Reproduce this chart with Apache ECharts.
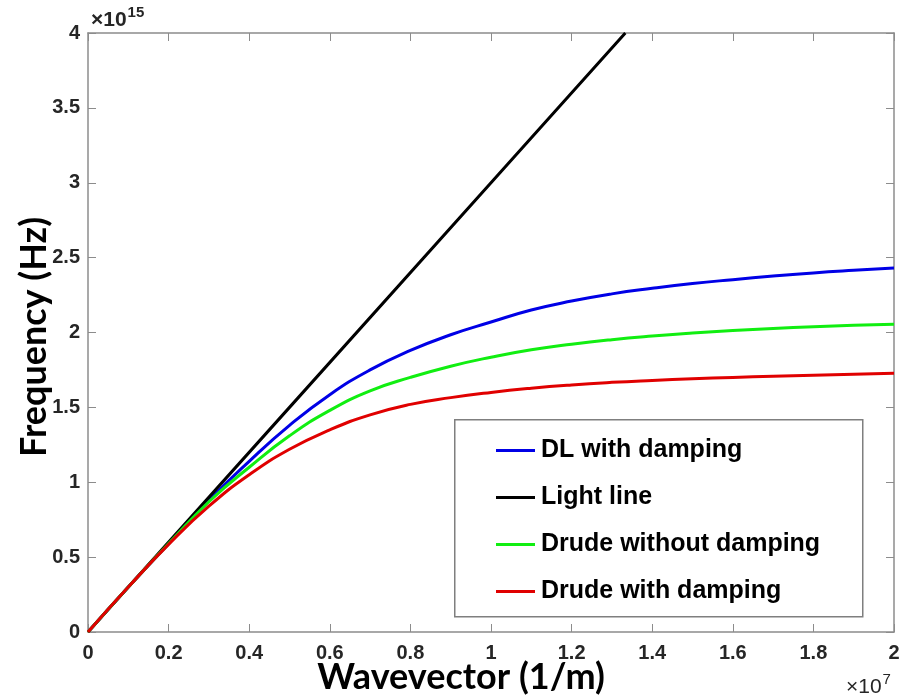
<!DOCTYPE html>
<html>
<head>
    <meta charset="utf-8">
    <title>Dispersion</title>
    <script src="https://cdn.jsdelivr.net/npm/echarts@6/dist/echarts.min.js"></script>
    <style type="text/css">
        html, body {margin:0; padding:0; background:#fff; overflow:hidden;}
    </style>
</head>
<body>
<div id="container" style="width:903px;height:700px;"></div>

<script type="text/javascript">
    // wavevector (x 1e7 1/m)
    var kx = [0, 0.1, 0.2, 0.3, 0.4, 0.5, 0.6, 0.7, 0.8, 0.9, 1.0, 1.1, 1.2, 1.3, 1.4, 1.5, 1.6, 1.7, 1.8, 1.9, 2.0];
    // frequency (x 1e15 Hz)
    var dlDamp     = [0, 0.30, 0.59, 0.88, 1.14, 1.38, 1.585, 1.75, 1.88, 1.985, 2.07, 2.15, 2.21, 2.258, 2.295, 2.327, 2.353, 2.377, 2.398, 2.415, 2.43];
    var drudeNoDmp = [0, 0.30, 0.59, 0.87, 1.10, 1.31, 1.48, 1.61, 1.70, 1.775, 1.835, 1.885, 1.922, 1.952, 1.976, 1.996, 2.013, 2.027, 2.039, 2.048, 2.055];
    var drudeDamp  = [0, 0.30, 0.585, 0.84, 1.05, 1.22, 1.35, 1.45, 1.52, 1.565, 1.60, 1.628, 1.65, 1.667, 1.68, 1.691, 1.70, 1.708, 1.715, 1.722, 1.728];
    var lightK = [0, 0.5, 1.0, 1.3333];
    var lightF = [0, 1.5, 3.0, 4.0];

    var xTicks = ['0', '0.2', '0.4', '0.6', '0.8', '1', '1.2', '1.4', '1.6', '1.8', '2'];
    var yTicks = ['0', '0.5', '1', '1.5', '2', '2.5', '3', '3.5', '4'];

    function pairs(xs, ys) {
        var out = [];
        for (var i = 0; i < xs.length; i++) out.push([xs[i], ys[i]]);
        return out;
    }

    var myChart = echarts.init(document.getElementById('container'));

    var axisGray = '#8c8c8c';
    var labelStyle = {color: '#262626', fontSize: 20, fontWeight: 'bold', fontFamily: 'Liberation Sans, Arial'};

    var option = {
        backgroundColor: '#ffffff',
        animation: false,
        grid: {left: 88, right: 9, top: 33, bottom: 68},
        xAxis: [{
            type: 'value', min: 0, max: 2, interval: 0.2, position: 'bottom',
            axisLine: {show: true, onZero: false, lineStyle: {color: axisGray, width: 1.5}},
            axisTick: {show: true, inside: true, length: 8, lineStyle: {color: axisGray}},
            splitLine: {show: false},
            axisLabel: Object.assign({margin: 11, formatter: function (v) {
                return xTicks[Math.round(v / 0.2)];
            }}, labelStyle)
        }, {
            type: 'value', min: 0, max: 2, interval: 0.2, position: 'top',
            axisLine: {show: true, onZero: false, lineStyle: {color: axisGray, width: 1.5}},
            axisTick: {show: true, inside: true, length: 8, lineStyle: {color: axisGray}},
            splitLine: {show: false},
            axisLabel: {show: false}
        }],
        yAxis: [{
            type: 'value', min: 0, max: 4, interval: 0.5, position: 'left',
            axisLine: {show: true, onZero: false, lineStyle: {color: axisGray, width: 1.5}},
            axisTick: {show: true, inside: true, length: 8, lineStyle: {color: axisGray}},
            splitLine: {show: false},
            axisLabel: Object.assign({margin: 8, formatter: function (v) {
                return yTicks[Math.round(v / 0.5)];
            }}, labelStyle)
        }, {
            type: 'value', min: 0, max: 4, interval: 0.5, position: 'right',
            axisLine: {show: true, onZero: false, lineStyle: {color: axisGray, width: 1.5}},
            axisTick: {show: true, inside: true, length: 8, lineStyle: {color: axisGray}},
            splitLine: {show: false},
            axisLabel: {show: false}
        }],
        legend: {
            orient: 'vertical',
            left: 496, top: 438, padding: 0,
            itemWidth: 39, itemHeight: 3, itemGap: 22,
            icon: 'rect', z: 60,
            textStyle: {color: '#000', fontSize: 25, fontWeight: 'bold', fontFamily: 'Liberation Sans, Arial', padding: [0, 0, 0, 1]},
            data: ['DL with damping', 'Light line', 'Drude without damping', 'Drude with damping']
        },
        graphic: [
            {type: 'rect', left: 454, top: 419, shape: {width: 408, height: 197},
             style: {fill: '#fff', stroke: '#7f7f7f', lineWidth: 1.5}, z: 50},
            {type: 'text', x: 91, y: 20, style: {
                text: '{a|×10}{b|15}', textVerticalAlign: 'middle',
                rich: {
                    a: {fontSize: 21, fontWeight: 'bold', fill: '#262626', fontFamily: 'Liberation Sans'},
                    b: {fontSize: 15, fontWeight: 'bold', fill: '#262626', fontFamily: 'Liberation Sans', padding: [0, 0, 14, 1]}
                }}},
            {type: 'text', x: 846, y: 687, style: {
                text: '{a|×10}{b|7}', textVerticalAlign: 'middle',
                rich: {
                    a: {fontSize: 21, fill: '#262626', fontFamily: 'Liberation Sans'},
                    b: {fontSize: 15, fill: '#262626', fontFamily: 'Liberation Sans', padding: [0, 0, 14, 1]}
                }}},
            {type: 'text', x: 461, y: 677, style: {
                text: 'Wavevector (1/m)', textAlign: 'center', textVerticalAlign: 'middle',
                fontSize: 36, fontWeight: 'bold', fill: '#000', fontFamily: 'Lato, Open Sans, sans-serif'}},
            {type: 'text', x: 34, y: 337, rotation: Math.PI / 2, style: {
                text: 'Frequency (Hz)', textAlign: 'center', textVerticalAlign: 'middle',
                fontSize: 36, fontWeight: 'bold', fill: '#000', fontFamily: 'Lato, Open Sans, sans-serif'}}
        ],
        series: [
            {name: 'DL with damping', type: 'line', data: pairs(kx, dlDamp), smooth: 0.5,
             showSymbol: false, symbol: 'none', color: '#0000e6', lineStyle: {width: 3}},
            {name: 'Light line', type: 'line', data: pairs(lightK, lightF),
             showSymbol: false, symbol: 'none', color: '#000000', lineStyle: {width: 3}},
            {name: 'Drude without damping', type: 'line', data: pairs(kx, drudeNoDmp), smooth: 0.5,
             showSymbol: false, symbol: 'none', color: '#11ee11', lineStyle: {width: 3}},
            {name: 'Drude with damping', type: 'line', data: pairs(kx, drudeDamp), smooth: 0.5,
             showSymbol: false, symbol: 'none', color: '#e00000', lineStyle: {width: 3}}
        ]
    };

    myChart.setOption(option, true);
</script>
</body>
</html>
